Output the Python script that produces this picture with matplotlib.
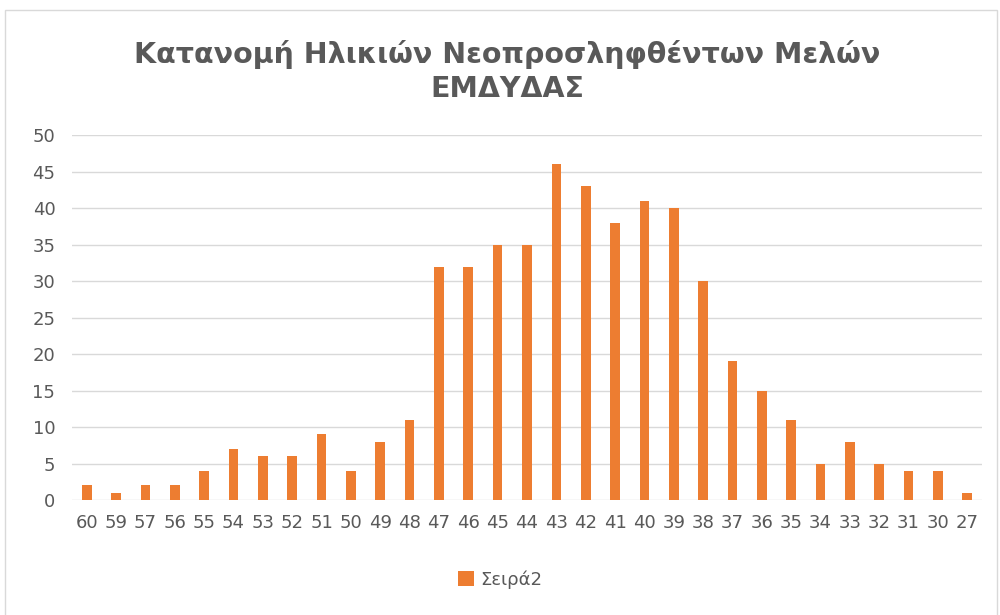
import matplotlib.pyplot as plt
from matplotlib.patches import Rectangle

# Ηλικίες (κατηγορίες) και πλήθος μελών
ages = ["60", "59", "57", "56", "55", "54", "53", "52", "51", "50", "49", "48",
        "47", "46", "45", "44", "43", "42", "41", "40", "39", "38", "37", "36",
        "35", "34", "33", "32", "31", "30", "27"]
counts = [2, 1, 2, 2, 4, 7, 6, 6, 9, 4, 8, 11,
          32, 32, 35, 35, 46, 43, 38, 41, 40, 30, 19, 15,
          11, 5, 8, 5, 4, 4, 1]
y_ticks = [0, 5, 10, 15, 20, 25, 30, 35, 40, 45, 50]

title = "Κατανομή Ηλικιών Νεοπροσληφθέντων Μελών\nΕΜΔΥΔΑΣ"
series_name = "Σειρά2"

bar_color = "#ED7D31"
text_color = "#595959"
grid_color = "#D9D9D9"

plt.rcParams["font.family"] = ["DejaVu Sans"]

fig = plt.figure(figsize=(10, 6.15), dpi=100)
ax = fig.add_axes([0.072, 0.187, 0.91, 0.593])

x = range(len(ages))
ax.bar(x, counts, width=0.33, color=bar_color, label=series_name, zorder=3)

ax.set_xlim(-0.5, len(ages) - 0.5)
ax.set_ylim(0, 50)
ax.set_yticks(y_ticks)
ax.set_xticks(list(x))
ax.set_xticklabels(ages)
ax.grid(axis="y", color=grid_color, linewidth=1, zorder=0)
for s in ax.spines.values():
    s.set_visible(False)
ax.tick_params(axis="both", length=0, labelsize=13, colors=text_color)
ax.tick_params(axis="x", pad=10)
ax.tick_params(axis="y", pad=12)

fig.text(0.507, 0.884, title, ha="center", va="center", fontsize=20.5,
         fontweight="bold", color=text_color, linespacing=1.25)

leg = fig.legend(loc="center", bbox_to_anchor=(0.5, 0.057), frameon=False,
                 fontsize=13, handlelength=0.9, handleheight=0.9,
                 handletextpad=0.3)
for t in leg.get_texts():
    t.set_color(text_color)

# Πλαίσιο γραφήματος
fig.patches.append(Rectangle((0.005, -0.01), 0.992, 0.994, transform=fig.transFigure,
                             fill=False, edgecolor="#D9D9D9", linewidth=1))

fig.savefig("out.png", dpi=100)
